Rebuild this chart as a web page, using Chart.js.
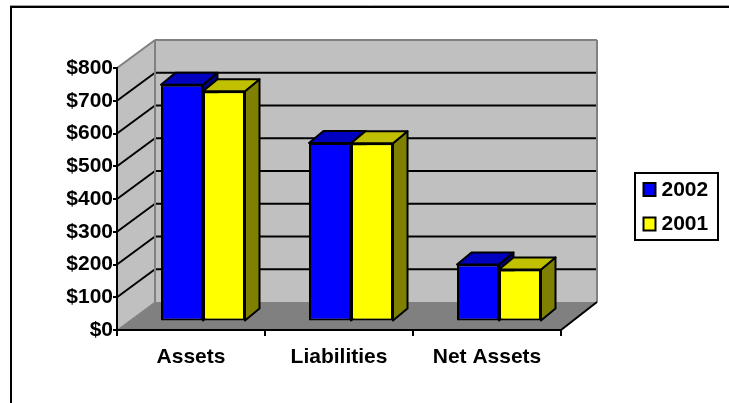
<!DOCTYPE html>
<html>
<head>
<meta charset="utf-8">
<style>
html, body { margin: 0; padding: 0; background: #fff; }
#wrap { position: relative; width: 729px; height: 403px; }
</style>
<script src="https://cdn.jsdelivr.net/npm/chart.js@4"></script>
</head>
<body>
<div id="wrap"><canvas id="chart" width="729" height="403"></canvas></div>
<script>
const categories = ['Assets', 'Liabilities', 'Net Assets'];
const values2002 = [723, 545, 174];
const values2001 = [703, 544, 159];
const seriesNames = ['2002', '2001'];

const frontColors = ['#0000ff', '#ffff00'];
const topColors = ['#0000c0', '#c0c000'];
const sideColors = ['#000080', '#808000'];

const FONT = '"Liberation Sans", Arial, sans-serif';
const FONT_SIZE = 21;
const WALL = '#c0c0c0';
const FLOOR = '#808080';
const EDGE = '#808080';

// depth of the plot box and of the bars, in pixels
const depth = { x: 38, y: -28, rightX: 36 };
const barDepth = { x: 14.5, y: -12 };
const barShift = { x: 12, y: -8.5 };

function poly(ctx, pts, fill, stroke, lw) {
    ctx.beginPath();
    pts.forEach((p, i) => i ? ctx.lineTo(p[0], p[1]) : ctx.moveTo(p[0], p[1]));
    ctx.closePath();
    if (fill) { ctx.fillStyle = fill; ctx.fill(); }
    if (stroke) { ctx.strokeStyle = stroke; ctx.lineWidth = lw; ctx.lineJoin = 'round'; ctx.stroke(); }
}

function line(ctx, x1, y1, x2, y2, color, lw) {
    ctx.beginPath();
    ctx.moveTo(x1, y1);
    ctx.lineTo(x2, y2);
    ctx.strokeStyle = color;
    ctx.lineWidth = lw;
    ctx.stroke();
}

// walls, floor and the gridlines on them
const box3d = {
    id: 'box3d',
    beforeDraw(chart) {
        const ctx = chart.ctx, y = chart.scales.y, x = chart.scales.x;
        const l = x.left, r = x.right, t = y.top, b = y.bottom;
        const bl = l + depth.x, br = r + depth.rightX;
        ctx.save();
        // outer frame, runs past the picture on the right and bottom
        line(ctx, 10, 5.5, 729, 5.5, '#a0a0a0', 1);
        line(ctx, 10, 7, 729, 7, '#000', 2);
        line(ctx, 11, 6, 11, 403, '#000', 2);

        poly(ctx, [[l, t], [bl, t + depth.y], [bl, b + depth.y], [l, b]], WALL);
        poly(ctx, [[bl, t + depth.y], [br, t + depth.y], [br, b + depth.y], [bl, b + depth.y]], WALL);
        poly(ctx, [[l, b], [bl, b + depth.y], [br, b + depth.y], [r, b]], FLOOR);

        y.ticks.forEach(tick => {
            const py = y.getPixelForValue(tick.value);
            if (tick.value === 0 || tick.value === 800) return;
            line(ctx, l, py, bl, py + depth.y, '#000', 2);
            line(ctx, bl, py + depth.y, br, py + depth.y, '#000', 2);
        });
        line(ctx, l, t, bl, t + depth.y, EDGE, 2);
        line(ctx, bl, t + depth.y, br, t + depth.y, EDGE, 2);
        line(ctx, bl, t + depth.y, bl, b + depth.y, EDGE, 2);
        line(ctx, br, t + depth.y, br, b + depth.y, EDGE, 2);
        line(ctx, l, b, bl, b + depth.y, EDGE, 1);
        line(ctx, r, b, br, b + depth.y, '#000', 2);
        ctx.restore();
    },
    // chart.js paints the last dataset first, here the first series has to go under the second
    beforeDatasetsDraw(chart) {
        const ctx = chart.ctx;
        chart.data.datasets.forEach((ds, i) => {
            const meta = chart.getDatasetMeta(i);
            ctx.save();
            // bars stand in the middle of the floor, so move them back a bit
            ctx.translate(barShift.x, barShift.y);
            meta.data.forEach(el => {
                const x0 = el.x - el.width / 2, x1 = el.x + el.width / 2;
                const dx = barDepth.x, dy = barDepth.y;
                poly(ctx, [[x1, el.y], [x1 + dx, el.y + dy], [x1 + dx, el.base + dy], [x1, el.base]], sideColors[i], '#000', 2);
                poly(ctx, [[x0, el.y], [x0 + dx, el.y + dy], [x1 + dx, el.y + dy], [x1, el.y]], topColors[i], '#000', 2);
            });
            meta.controller.draw();
            ctx.restore();
        });
        return false;
    },
    // boxed legend to the right of the plot
    afterDraw(chart) {
        const ctx = chart.ctx;
        ctx.save();
        ctx.strokeStyle = '#000';
        ctx.lineWidth = 2;
        ctx.strokeRect(635, 173, 83, 67);
        ctx.font = 'bold ' + FONT_SIZE + 'px ' + FONT;
        ctx.textBaseline = 'middle';
        seriesNames.forEach((name, i) => {
            const cy = 189.5 + i * 34.5;
            ctx.fillStyle = frontColors[i];
            ctx.fillRect(643.5, cy - 6.5, 12, 13);
            ctx.strokeRect(643.5, cy - 6.5, 12, 13);
            ctx.fillStyle = '#000';
            ctx.fillText(name, 661.5, cy + 0.5);
        });
        ctx.restore();
    }
};

new Chart(document.getElementById('chart').getContext('2d'), {
    type: 'bar',
    data: {
        labels: categories,
        datasets: [{
            label: seriesNames[0],
            data: values2002,
            backgroundColor: frontColors[0]
        }, {
            label: seriesNames[1],
            data: values2001,
            backgroundColor: frontColors[1]
        }]
    },
    plugins: [box3d],
    options: {
        responsive: false,
        animation: false,
        layout: { padding: { top: 68, left: 10, right: 168, bottom: 30 } },
        datasets: {
            bar: {
                borderColor: '#000',
                borderWidth: 2,
                borderSkipped: false,
                categoryPercentage: 0.5676,
                barPercentage: 1
            }
        },
        plugins: {
            tooltip: { enabled: false },
            legend: { display: false }
        },
        scales: {
            x: {
                afterFit(s) { s.height = 43; },
                grid: { color: '#000', lineWidth: 2, drawOnChartArea: false, tickLength: 6 },
                border: { color: '#000', width: 2 },
                ticks: { color: '#000', padding: 9, maxRotation: 0, font: { family: FONT, size: FONT_SIZE, weight: 'bold' } }
            },
            y: {
                min: 0,
                max: 800,
                afterFit(s) { s.width = 107; },
                grid: { color: '#000', lineWidth: 2, drawOnChartArea: false, tickLength: 4 },
                border: { color: '#000', width: 2 },
                ticks: {
                    stepSize: 100,
                    color: '#000',
                    padding: 0,
                    font: { family: FONT, size: FONT_SIZE, weight: 'bold' },
                    callback: v => '$' + v
                }
            }
        }
    }
});
</script>
</body>
</html>
